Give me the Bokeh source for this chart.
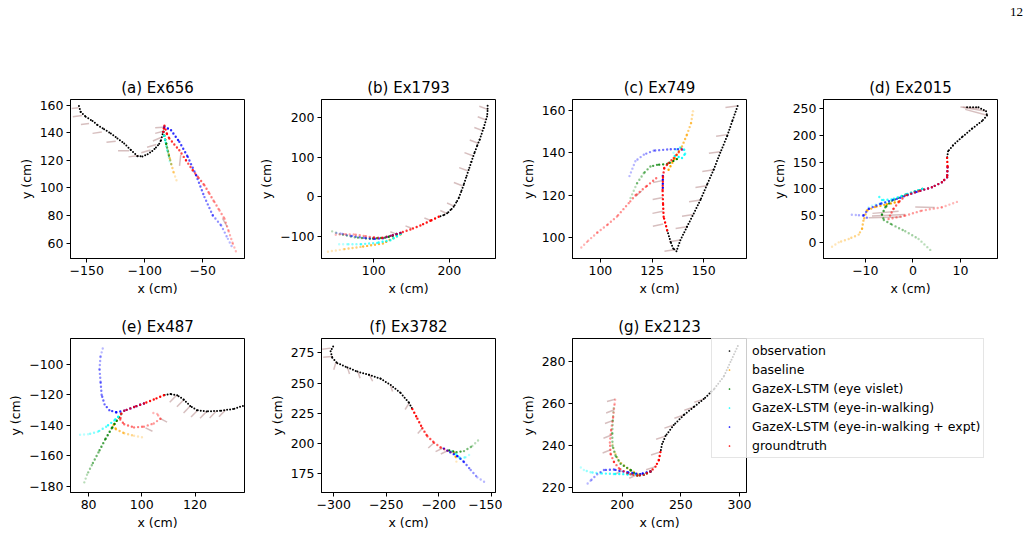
import numpy as np
from bokeh.plotting import figure
from bokeh.layouts import row, column
from bokeh.models import FixedTicker, Range1d, Legend, LegendItem, ColumnDataSource, Div, Spacer
from bokeh.embed import file_html
from bokeh.resources import INLINE

nan = float("nan")
FONT = "DejaVu Sans"
FS = "12.5px"

SERIES_LABELS = ["observation", "baseline", "GazeX-LSTM (eye vislet)",
                 "GazeX-LSTM (eye-in-walking)", "GazeX-LSTM (eye-in-walking + expt)", "groundtruth"]
SERIES_COLORS = ["black", "orange", "green", "cyan", "blue", "red"]
PAGE_NUMBER = "12"

# ---------------- (a) Ex656 ----------------
A_TITLE = "(a) Ex656"
A_XR = (-164, -14); A_YR = (49, 164)
A_XT = [-150, -100, -50]; A_YT = [60, 80, 100, 120, 140, 160]
A_OBS = ([-156.7, -155.2, -150.9, -145, -140.7, -135, -129.2, -123.5, -117.7, -112, -106.2, -102, -97.5, -93.5, -90.3, -87.5, -86, -84],
         [159.3, 155, 151.5, 148.5, 145.5, 142.5, 139.4, 135.8, 132.2, 127.5, 123, 122.8, 124.4, 126.8, 129.3, 132, 134.6, 140.6])
A_ORA = ([-84, -81, -78, -75, -72.1], [140.6, 130, 120, 111, 104.3])
A_GRN = ([-84, -81.5, -79, -76.5], [140.6, 132, 123, 115])
A_CYN = ([-84, -82, -80, -78], [140.6, 133, 125, 117])
A_BLU = ([-84, -83.1, -77.3, -70.2, -62.9, -55.7, -48.5, -41.3, -34.1, -28.3, -24.6],
         [140.6, 144.3, 141.8, 133.4, 122.5, 109.2, 93.4, 80.1, 72.9, 63.2, 57.1])
A_GT = ([-84, -83.5, -83, -80.8, -78.8, -74.5, -70.2, -64.4, -58.6, -53.5, -48.5, -44.2, -39.9, -35.5, -31.2, -27.6, -24, -21.1],
        [140.6, 143, 145, 139, 135.8, 131.5, 127.3, 120, 112.8, 107.3, 101.9, 95.8, 89.8, 83.7, 77.7, 68.6, 59.6, 53.5])
A_GAZE = ([-157, -154, -148, -137, -125, -113.5, -105, -95, -90, -86, -84, -84, -69, -29],
          [158, 152.5, 146.7, 140.5, 133.8, 127, 123.5, 127.5, 131.5, 136.5, 141, 144, 124, 72],
          [-163, -162, -155, -145, -133, -123, -114, -103, -98, -93, -91, -91, -70, -33],
          [157.5, 151.5, 146, 139.5, 133, 127, 122.5, 125.5, 129.5, 134, 139.5, 143.5, 116, 78])

# ---------------- (b) Ex1793 ----------------
B_TITLE = "(b) Ex1793"
B_XR = (31, 261); B_YR = (-157, 247)
B_XT = [100, 200]; B_YT = [-100, 0, 100, 200]
B_OBS = ([250.6, 250.5, 249.8, 245.3, 240, 236.5, 233, 229, 225.5, 222, 218.9, 215.5, 212.3, 209, 205.7, 201.5, 197, 192, 185.9],
         [231.4, 218, 204, 174.5, 144.6, 128, 110.7, 88, 68, 48, 29.9, 12, -4, -15, -25.5, -34, -42.3, -47, -51])
B_ORA = ([135.3, 112.2, 82.5, 60.4, 38.4], [-96, -118.9, -127.5, -133.4, -140])
B_GRN = ([135.3, 115, 95, 75, 55, 45], [-94, -104, -107, -103, -95, -88])
B_CYN = ([135.3, 122.1, 104.5, 82.5, 64.9, 49.5], [-95, -110.5, -117.3, -120.7, -120.7, -120.7])
B_BLU = ([135.3, 122.1, 112.2, 100, 86.8, 69.2, 56, 47.2], [-91.8, -99.5, -105.4, -106.9, -104.3, -99.5, -93.6, -91.1])
B_GT = ([185.9, 174.9, 161.7, 148.5, 135.3, 122.1, 111.1, 100, 86.8, 73.6, 60.4, 47.2],
        [-51, -61.2, -73, -83.2, -91.8, -99.5, -104.6, -103.7, -99.5, -96, -95, -97])
B_GAZE = ([250.6, 248.5, 244, 238, 231, 224, 217, 206, 196, 175, 150, 130],
          [222, 195, 168, 136, 104, 66, 28, -24, -42, -60, -80, -95],
          [239.6, 237.5, 233, 227, 220, 213, 206, 197, 188, 167, 142, 122],
          [230, 203, 176, 144, 112, 74, 36, -16, -35, -54, -74, -89])

# ---------------- (c) Ex749 ----------------
C_TITLE = "(c) Ex749"
C_XR = (86.5, 170.7); C_YR = (90.3, 165)
C_XT = [100, 125, 150]; C_YT = [100, 120, 140, 160]
C_OBS = ([166.4, 163.8, 161.3, 158, 154.8, 151.6, 148.4, 145.2, 141.9, 138.7, 136.8, 135.2, 134, 132.3],
         [161.9, 154.8, 147.7, 140, 132, 125, 117.8, 111.5, 105.2, 98.9, 93.7, 95, 98.1, 103.6])
C_ORA = ([133, 136, 139.5, 141.9, 143.9, 144.8, 144.7], [132, 137.5, 143, 148.5, 154, 159.5, 161])
C_GRN = ([137, 132.3, 127.4, 124.2, 121, 117.7, 114.5], [137, 134.7, 134.3, 133.5, 130.4, 125.6, 118.5])
C_CYN = ([136, 139.5, 141, 140.5, 138.5, 136.5, 135], [138.5, 137.5, 139.5, 141.5, 142.5, 141.5, 139.5])
C_BLU = ([130.2, 130.2, nan, 139.5, 136, 132.3, 125.8, 121, 116.9, 113.7],
         [123.5, 129.5, nan, 141.5, 141.7, 141.5, 141, 139.1, 136, 128.1])
C_GT = ([132.3, 130.6, 130.3, 130.1, 130.3, 130.9, 133, 135.5, 137.9, 139.5, nan, 127, 122, 117, 113.7, 108, 103.2, 98.4, 93.5, 89.8],
        [103.6, 109.9, 116.3, 122.6, 128.9, 132.8, 135.2, 137.5, 140.2, 141.8, nan, 128, 124, 120, 116.3, 110, 106, 102.4, 98.1, 94.5])
C_GAZE = ([166, 161.5, 158, 154.8, 151.5, 148.4, 145, 141.9, 138.7, 136.5, 130.5, 130.3, 130.2, 130.4, 120],
          [162, 148.5, 140.5, 132, 124.5, 117.8, 111, 105.2, 99, 94.5, 127, 119, 112.5, 106.5, 122],
          [160.5, 156, 152.5, 149.3, 146, 142.9, 139.5, 136.4, 133.2, 131, 125.5, 125.3, 125.2, 125.4, 117],
          [161.2, 147.7, 139.7, 131.2, 123.7, 117, 110.2, 104.4, 98.2, 93.7, 126, 118, 111.5, 105.5, 119.5])

# ---------------- (d) Ex2015 ----------------
D_TITLE = "(d) Ex2015"
D_XR = (-18.8, 17.8); D_YR = (-30.6, 267.5)
D_XT = [-10, 0, 10]; D_YT = [0, 50, 100, 150, 200, 250]
D_OBS = ([11.4, 13.8, 15.4, 15.6, 14.5, 12.4, 10.3, 8.4, 7.4, 7.2],
         [253, 253, 245.5, 237.4, 226.8, 212.5, 196.7, 181.1, 170.5, 158])
D_ORA = ([-3, -6, -8, -9.7, -10.4, -10.7, -11.4, -13.5, -15.6, -17.7], [76, 70, 66, 59.2, 40.4, 24.9, 14.2, 6.1, -0.3, -12.7])
D_GRN = ([2, -1.5, -4.4, -5.8, -6.5, -6.1, -4.4, -1.6, 1.2, 4.2], [100, 89, 78, 65.4, 51.7, 41.7, 33, 20.4, 6.1, -19])
D_CYN = ([2, -1.6, -4.5, -6.5, -7.6, nan, -5, -7, -8.6, -9.5], [100, 89, 80, 79, 90, nan, 76, 72, 68.6, 64.3])
D_BLU = ([7.3, 7.2, 6.1, 4, 0.5, -3.4, -6.9, -9.3, -10.4, -9.3, nan, -10.5, -12, -13.5],
         [140.4, 121.7, 112.3, 102.9, 93.5, 81.1, 71.8, 62.4, 49.9, 44, nan, 50, 51, 52])
D_GT = ([7.2, 7.3, 7.2, 6.1, 4, 1.2, -1.6, -3, -4.1, -4.8, -5.1, -1.6, 1.9, 6.1, 9.6],
        [158, 140.4, 121.7, 112.3, 102.9, 95.4, 87.3, 74.8, 62.3, 49.8, 43.5, 49.8, 59.2, 65.4, 76.6])
D_GAZE = ([15.4, 15.6, 14, -2.3, -1.6, 4.6, -3],
          [245.5, 238, 251, 47, 52, 65, 58],
          [10.5, 11, 10, -9.3, -8.6, 0.5, -8.5],
          [253, 249, 253.5, 46, 49, 66, 54])

# ---------------- (e) Ex487 ----------------
E_TITLE = "(e) Ex487"
E_XR = (73.2, 138.6); E_YR = (-184.2, -83.2)
E_XT = [80, 100, 120]; E_YT = [-180, -160, -140, -120, -100]
E_OBS = ([138, 134.3, 129.4, 124.4, 120.7, 118.2, 115.7, 113.3, 110.8, 108.3],
         [-127.4, -129.5, -130.6, -131, -130.2, -127.4, -123.2, -120.4, -119.6, -120.4])
E_ORA = ([92.2, 89.4, 90.3, 93.4, 97.1, 101.4], [-132.7, -140, -142.7, -145.3, -147, -148.4])
E_GRN = ([92.2, 88.7, 86.2, 83.7, 81.2, 79.4, 78.2], [-132.7, -142.1, -149.5, -157.9, -166.3, -172.6, -178.5])
E_CYN = ([92.2, 89.7, 86.6, 83.5, 79.8, 76.1], [-132.7, -136.9, -141.1, -144.3, -146, -146.4])
E_BLU = ([100.8, 97.1, 93.4, 90.3, 87.8, 86, 84.9, 84.5, 84.1, 84.5, 85.7],
         [-125.8, -128.1, -130.6, -131.6, -130.2, -126.4, -120.1, -111.6, -103.2, -94.8, -87.4])
E_GT = ([108.3, 104.5, 100.8, 97.1, 93.4, 92.2, 91.9, 93.4, 97.1, 100.8, 104.5, 107, 105.8, 103.9],
        [-120.4, -123.2, -125.8, -128.1, -130.6, -132.7, -136.4, -139.4, -141.5, -141, -138.9, -135.8, -132.7, -131.8])
E_GAZE = ([113, 115.7, 118.2, 121, 124.4, 128, 131.5, 107, 101.4],
          [-120.5, -123.5, -127.5, -130.2, -131, -130.8, -130, -135.8, -141.8],
          [110.5, 113.2, 115.7, 118.5, 121.9, 125.5, 129, 109.5, 104],
          [-125, -128, -132, -134.7, -135.5, -135.3, -134.5, -138, -144])

# ---------------- (f) Ex3782 ----------------
F_TITLE = "(f) Ex3782"
F_XR = (-311.7, -145.9); F_YR = (159, 287)
F_XT = [-300, -250, -200, -150]; F_YT = [175, 200, 225, 250, 275]
F_OBS = ([-300.6, -303, -301.4, -296.6, -287, -277.5, -266.4, -255.3, -245.7, -236.2, -228.3, -225.1],
         [280.4, 276.4, 271, 266.5, 263, 259.5, 256.8, 253.6, 248.3, 241.6, 233.6, 228.3])
F_ORA = ([-185, -183.6, -183.1], [192, 188, 184.4])
F_GRN = ([-190, -183, -175.9, -168, -161.6], [194, 192.5, 193.4, 197.6, 203])
F_CYN = ([-188, -183, -179, -174.3, -169.5], [193, 190.5, 187, 188.4, 191])
F_BLU = ([-195, -189, -182.2, -175.9, -169.5, -163.2, -153.7], [195.5, 192.5, 189.2, 184.4, 177.7, 171.6, 166.2])
F_GT = ([-225.1, -220.3, -215.6, -210.8, -204.4, -198.1, -191.7, -185.4, -183],
        [228.3, 220.4, 212.4, 205.7, 200.4, 196.4, 193.7, 191.9, 190.5])
F_GAZE = ([-303, -302, -298, -287, -277, -266, -246, -228, -215.6, -204.4, -191.7, -196],
          [279, 272, 267, 263, 259.5, 256.8, 248.3, 233.6, 212.4, 200.4, 193.7, 196],
          [-311, -310, -300, -285, -275, -263, -244, -232, -220, -210, -198, -203],
          [278, 271.5, 261, 257.5, 254, 251.5, 243, 228, 208, 196, 191, 193])

# ---------------- (g) Ex2123 ----------------
G_TITLE = "(g) Ex2123"
G_XR = (157.6, 306); G_YR = (217.7, 290.9)
G_XT = [200, 250, 300]; G_YT = [220, 240, 260, 280]
G_OBS = ([298.6, 292.3, 286.6, 278.1, 269.5, 261, 252.5, 244, 236.9, 234, 232.6],
         [287.3, 279.7, 272.8, 266.7, 262.1, 258.3, 254.5, 249.8, 244.5, 240.7, 236.9])
G_ORA = ([224.1, 218.4, 212.8, 204.3, 197.2, 193.5, 191.7], [227.7, 226.3, 226.5, 229.2, 232.6, 236.9, 240.8])
G_GRN = ([224.1, 218.4, 212.8, 207.1, 198.6, 194.3, 191.7, 191.5, 192, 192.8],
         [227.7, 226.1, 225.8, 228.4, 231.4, 235.3, 239.9, 246, 252.1, 258.2])
G_CYN = ([218.4, 204.3, 192.9, 181.5, 173, 167.3, 163], [226.3, 226.4, 226.5, 226.8, 227.3, 228.4, 230.4])
G_BLU = ([224.1, 215.4, 204.3, 192.9, 184.4, 178.7, 173, 169.6], [227.7, 226.4, 227.3, 228.6, 228.4, 226.4, 223.3, 221.5])
G_GT = ([232.6, 231.2, 228.4, 224.1, 218.4, 212.8, 207.1, 204.3, 197.2, 192.9, 190.1, 189.5, 190.6, 192.3, 193.5, 194.3],
        [236.9, 233, 230, 227.7, 226.1, 225.8, 226.4, 226.9, 229.2, 232.3, 236.1, 241.5, 247.6, 253.7, 259.9, 262.9])
G_GAZE = ([269.5, 261, 252.5, 244, 236.9, 232.6, 228.4, 194, 193.3, 192.3, 191, 190.3, 200, 212],
          [262.1, 258.3, 254.5, 249.8, 244.5, 237, 230, 262, 257, 252, 245, 238, 228, 226],
          [261.5, 253, 244.5, 236, 228.9, 224.6, 220.4, 187, 186.3, 185.3, 184, 183.3, 194, 206],
          [260.6, 256.8, 253, 248.3, 243, 235.5, 228.5, 261, 255.5, 250.5, 243.5, 236.5, 226.5, 224.5])


def fmt(v):
    return str(v).replace("-", "\u2212")


def make_fig(title, xr, yr, xt, yt, width, height, top, bottom, right):
    p = figure(width=width, height=height, x_range=Range1d(*xr), y_range=Range1d(*yr),
               output_backend="svg", toolbar_location=None, title=title,
               min_border_left=70, min_border_right=right, min_border_top=top, min_border_bottom=bottom)
    p.background_fill_color = "white"
    p.border_fill_color = "white"
    p.title.text_font = FONT
    p.title.text_font_size = "15px"
    p.title.text_font_style = "normal"
    p.title.align = "center"
    p.title.standoff = 5
    p.title.text_color = "black"
    p.xgrid.visible = False
    p.ygrid.visible = False
    p.outline_line_color = "black"
    p.outline_line_alpha = 1
    p.outline_line_width = 1
    for ax, ticks, lab in ((p.xaxis[0], xt, "x (cm)"), (p.yaxis[0], yt, "y (cm)")):
        ax.ticker = FixedTicker(ticks=ticks, minor_ticks=[])
        ax.major_label_overrides = {t: fmt(t) for t in ticks}
        ax.axis_label = lab
        ax.axis_label_text_font = FONT
        ax.axis_label_text_font_size = FS
        ax.axis_label_text_font_style = "normal"
        ax.axis_label_text_color = "black"
        ax.axis_label_standoff = 3
        ax.major_label_text_font = FONT
        ax.major_label_text_font_size = FS
        ax.major_label_text_color = "black"
        ax.major_label_standoff = 3
        ax.major_tick_out = 4
        ax.major_tick_in = 0
        ax.minor_tick_out = 0
        ax.minor_tick_in = 0
        ax.major_tick_line_color = "black"
        ax.axis_line_color = "black"
    return p


def traj(p, xy, color, fade, dash="0 4", width=2.4):
    xs = np.array(xy[0], dtype=float)
    ys = np.array(xy[1], dtype=float)
    n = len(xs) - 1
    alpha = np.linspace(1.0, 0.28, n) if fade else np.full(n, 1.0)
    src = ColumnDataSource(dict(x0=xs[:-1], y0=ys[:-1], x1=xs[1:], y1=ys[1:], a=alpha))
    p.segment("x0", "y0", "x1", "y1", source=src, line_color=color, line_alpha="a",
              line_width=width, line_dash=dash, line_cap="round")


def draw(p, obs, ora, grn, cyn, blu, gt, gaze):
    gsrc = ColumnDataSource(dict(x0=gaze[0], y0=gaze[1], x1=gaze[2], y1=gaze[3]))
    p.segment("x0", "y0", "x1", "y1", source=gsrc, line_color="#b07f7f", line_alpha=0.5, line_width=1.5)
    traj(p, obs, "black", False, dash="0 3", width=2.0)
    traj(p, ora, "orange", True)
    traj(p, grn, "green", True)
    traj(p, cyn, "cyan", True)
    traj(p, blu, "blue", True)
    traj(p, gt, "red", True)


STRIP_H = 24
TOP_H, BOT_H = 305 - STRIP_H, 232
TOP_B = 99 - STRIP_H
pa = make_fig(A_TITLE, A_XR, A_YR, A_XT, A_YT, 251, TOP_H, TOP_B, 47, 7)
pb = make_fig(B_TITLE, B_XR, B_YR, B_XT, B_YT, 251, TOP_H, TOP_B, 47, 7)
pc = make_fig(C_TITLE, C_XR, C_YR, C_XT, C_YT, 251, TOP_H, TOP_B, 47, 7)
pd = make_fig(D_TITLE, D_XR, D_YR, D_XT, D_YT, 276, TOP_H, TOP_B, 47, 32)
pe = make_fig(E_TITLE, E_XR, E_YR, E_XT, E_YT, 251, BOT_H, 27, 45, 7)
pf = make_fig(F_TITLE, F_XR, F_YR, F_XT, F_YT, 251, BOT_H, 27, 45, 7)
pg = make_fig(G_TITLE, G_XR, G_YR, G_XT, G_YT, 251, BOT_H, 27, 45, 7)

draw(pa, A_OBS, A_ORA, A_GRN, A_CYN, A_BLU, A_GT, A_GAZE)
draw(pb, B_OBS, B_ORA, B_GRN, B_CYN, B_BLU, B_GT, B_GAZE)
draw(pc, C_OBS, C_ORA, C_GRN, C_CYN, C_BLU, C_GT, C_GAZE)
draw(pd, D_OBS, D_ORA, D_GRN, D_CYN, D_BLU, D_GT, D_GAZE)
draw(pe, E_OBS, E_ORA, E_GRN, E_CYN, E_BLU, E_GT, E_GAZE)
draw(pf, F_OBS, F_ORA, F_GRN, F_CYN, F_BLU, F_GT, F_GAZE)
draw(pg, G_OBS, G_ORA, G_GRN, G_CYN, G_BLU, G_GT, G_GAZE)

# legend: a transparent, axis-less figure laid over the right part of panel (g)
LEG_W = 318
lf = figure(width=LEG_W, height=BOT_H, x_range=Range1d(0, 1), y_range=Range1d(0, 1),
            output_backend="svg", toolbar_location=None, x_axis_location=None, y_axis_location=None,
            min_border=0, min_border_left=0, min_border_right=0, min_border_top=33, min_border_bottom=0,
            margin=(0, 0, 0, -42))
lf.background_fill_alpha = 0
lf.border_fill_alpha = 0
lf.outline_line_color = None
lf.xgrid.visible = False
lf.ygrid.visible = False
items = []
for lab, col in zip(SERIES_LABELS, SERIES_COLORS):
    # one NaN row: nothing is drawn in the plot, but the legend can draw the glyph
    r = lf.scatter(x=[nan], y=[nan], marker="dot", size=4, fill_color=col, line_color=col)
    items.append(LegendItem(label=lab, renderers=[r]))
leg = Legend(items=items, location="top_left", label_text_font=FONT, label_text_font_size=FS,
             label_text_color="black", glyph_width=28, glyph_height=17, label_height=17,
             label_standoff=9, spacing=2, padding=3, margin=0,
             border_line_color="#cccccc", border_line_width=1,
             background_fill_color="white", background_fill_alpha=0.8)
lf.add_layout(leg)

page_no = Div(text=PAGE_NUMBER, width=25, height=STRIP_H, margin=0,
              styles={"font-family": "Liberation Serif", "font-size": "13px", "line-height": "%dpx" % STRIP_H,
                      "color": "black", "padding-left": "6px"})
strip = row(Spacer(width=1004, height=STRIP_H, margin=0), page_no)

layout = column(strip, row(pa, pb, pc, pd), row(pe, pf, pg, lf))
open("out.html", "w").write(file_html(layout, INLINE))
